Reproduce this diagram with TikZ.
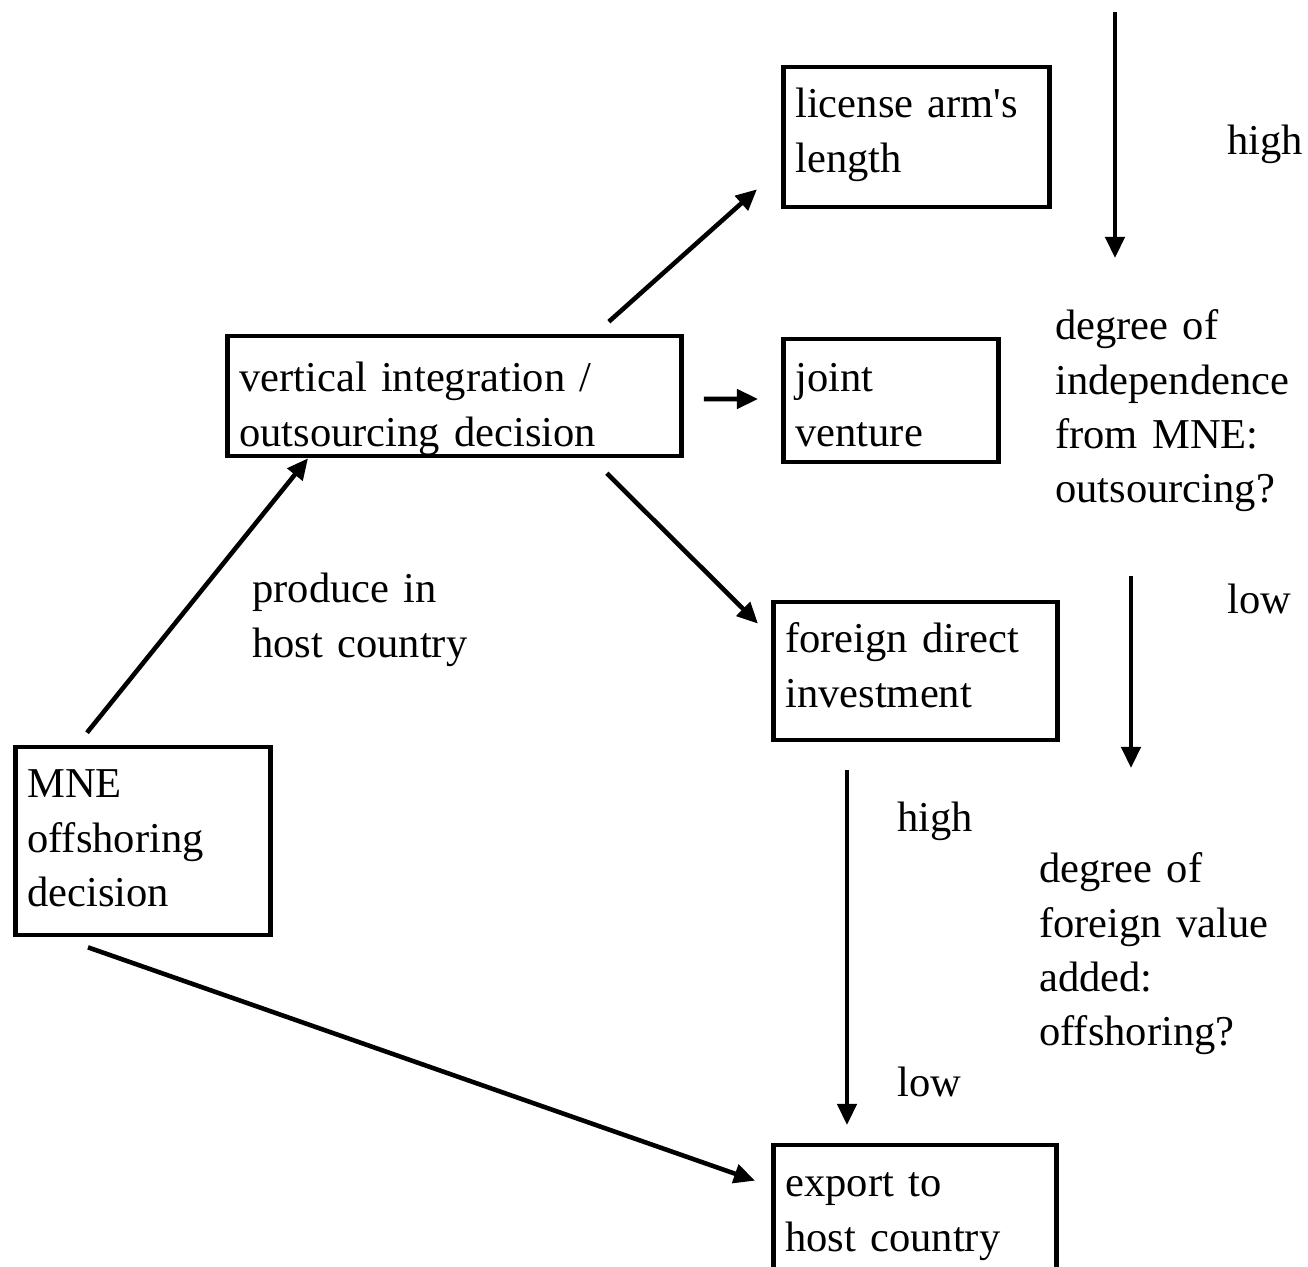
\documentclass[tikz,border=0pt]{standalone}
\usepackage{fontspec}
\setmainfont{Liberation Serif}
\usepackage{tikz}
\usetikzlibrary{arrows.meta,calc}

\begin{document}
\begin{tikzpicture}[x=0.01cm,y=-0.01cm,
  font=\fontsize{12.1pt}{15.4pt}\selectfont,
  line width=1.3pt,
  choicebox/.style={draw,anchor=base west,align=left,inner xsep=0.12cm,inner ysep=0pt},
  freetext/.style={anchor=base west,align=left,inner sep=0pt},
  conn/.style={-{Triangle[length=0.21cm,width=0.19cm]}}]
  \useasboundingbox (0,0) rectangle (1308,1267);

  % decision boxes
  \node[choicebox,text width=2.31cm,text height=0.51cm,text depth=1.37cm]
    (mne) at (13,798) {MNE\\offshoring\\decision};
  \node[choicebox,text width=4.30cm,text height=0.56cm,text depth=0.64cm]
    (vert) at (225,392) {vertical integration /\\outsourcing decision};
  \node[choicebox,text width=2.42cm,text height=0.51cm,text depth=0.89cm]
    (lic) at (781,118) {license arm\textquotesingle s\\length};
  \node[choicebox,text width=1.91cm,text height=0.53cm,text depth=0.70cm]
    (joint) at (781,392) {joint\\venture};
  \node[choicebox,text width=2.60cm,text height=0.51cm,text depth=0.87cm]
    (fdi) at (771,653) {foreign direct\\investment};
  \node[choicebox,text width=2.59cm,text height=0.52cm,text depth=1.20cm]
    (export) at (771,1197) {export to\\host country};

  % labels
  \node[freetext,text width=2.4cm] (produce) at (250,603) {produce in\\host country};
  \node[freetext] (highA) at (1225,155) {high};
  \node[freetext] (lowA) at (1225,614) {low};
  \node[freetext,text width=2.5cm] (indep) at (1053,340)
    {degree of\\independence\\from MNE:\\outsourcing?};
  \node[freetext] (highB) at (895,832) {high};
  \node[freetext] (lowB) at (895,1097) {low};
  \node[freetext,text width=2.5cm] (fva) at (1037,883)
    {degree of\\foreign value\\added:\\offshoring?};

  % scale arrows
  \coordinate (topA) at (1115,12);
  \coordinate (botA) at (1115,258);
  \coordinate (topB) at (1131,576);
  \coordinate (botB) at (1131,768);
  \coordinate (topC) at (847,770);
  \coordinate (botC) at (847,1125);
  \draw[conn] (topA) -- (botA);
  \draw[conn] (topB) -- (botB);
  \draw[conn] (topC) -- (botC);

  % connectors
  \draw[conn] ($(mne.north west)+(74,-12)$) -- ($(vert.south west)+(83,0)$);
  \draw[conn] ($(mne.south west)+(75,10)$) -- ($(export.north west)+(-16,38)$);
  \draw[conn] ($(vert.north east)+(-75,-12)$) -- ($(lic.south west)+(-24,-20)$);
  \draw[conn] ($(vert.east)+(20,3)$) -- ($(joint.west)+(-23,-1.5)$);
  \draw[conn] ($(vert.south east)+(-77,15)$) -- ($(fdi.north west)+(-13,24)$);
\end{tikzpicture}
\end{document}
